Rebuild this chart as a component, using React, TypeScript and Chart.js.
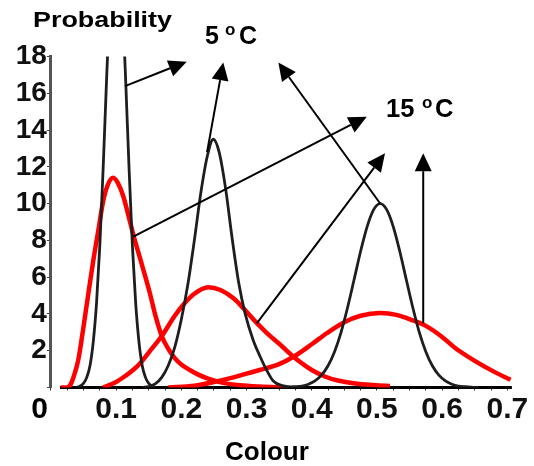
import React, { useEffect, useRef } from 'react';
import { Chart, registerables } from 'chart.js';

Chart.register(...registerables);

// Black curves (5 °C)
const black1X = [0.04, 0.05, 0.055, 0.06, 0.065, 0.07, 0.075, 0.08, 0.085, 0.09, 0.095, 0.1, 0.105, 0.11, 0.115, 0.12, 0.125, 0.13, 0.135, 0.14, 0.145, 0.15, 0.16];
const black1Y = [0, 0.22, 0.55, 1.2, 2.5, 4.6, 7.7, 11.8, 16.4, 20.7, 23.9, 25, 23.9, 20.7, 16.4, 11.8, 7.7, 4.6, 2.5, 1.2, 0.55, 0.22, 0];
const black2X = [0.14, 0.15, 0.16, 0.17, 0.18, 0.19, 0.2, 0.21, 0.22, 0.23, 0.24, 0.249, 0.258, 0.268, 0.278, 0.288, 0.298, 0.31, 0.321, 0.33, 0.341, 0.355, 0.37, 0.39];
const black2Y = [0, 0.05, 0.2, 0.55, 1.2, 2.2, 3.7, 5.6, 8.0, 10.6, 12.6, 13.5, 12.8, 10.8, 8.1, 5.7, 4.0, 2.6, 1.67, 1.0, 0.35, 0.1, 0.02, 0];
const black3X = [0.355, 0.375, 0.385, 0.395, 0.405, 0.415, 0.425, 0.435, 0.445, 0.455, 0.465, 0.475, 0.485, 0.495, 0.505, 0.515, 0.525, 0.535, 0.545, 0.555, 0.565, 0.575, 0.585, 0.595, 0.605, 0.615, 0.625, 0.635, 0.655];
const black3Y = [0, 0.04, 0.08, 0.18, 0.36, 0.67, 1.18, 1.95, 3.0, 4.35, 5.87, 7.41, 8.75, 9.67, 10, 9.67, 8.75, 7.41, 5.87, 4.35, 3.0, 1.95, 1.18, 0.67, 0.36, 0.18, 0.08, 0.04, 0];

// Red curves (15 °C)
const red1X = [0.015, 0.025, 0.03, 0.035, 0.042, 0.05, 0.057, 0.065, 0.073, 0.08, 0.087, 0.0955, 0.103, 0.111, 0.12, 0.128, 0.137, 0.145, 0.152, 0.16, 0.17, 0.18, 0.19, 0.2, 0.213, 0.226, 0.24, 0.264, 0.29, 0.32, 0.36];
const red1Y = [0, 0, 0.15, 0.6, 1.5, 3.3, 5.0, 6.9, 8.6, 10.1, 11.0, 11.4, 11.1, 10.4, 9.2, 8.1, 7.0, 6.0, 5.1, 3.95, 2.8, 2.1, 1.6, 1.25, 0.95, 0.7, 0.5, 0.25, 0.12, 0.05, 0];
const red2X = [0.08, 0.1, 0.115, 0.126, 0.137, 0.15, 0.17, 0.19, 0.203, 0.22, 0.2415, 0.26, 0.28, 0.298, 0.316, 0.333, 0.351, 0.372, 0.4, 0.42, 0.44, 0.47, 0.52];
const red2Y = [0, 0.3, 0.65, 0.95, 1.32, 1.9, 2.8, 3.9, 4.5, 5.1, 5.45, 5.3, 4.85, 4.2, 3.5, 2.9, 2.35, 1.67, 0.95, 0.6, 0.38, 0.2, 0.08];
const red3X = [0.18, 0.22, 0.25, 0.28, 0.3, 0.32, 0.35, 0.372, 0.4, 0.423, 0.45, 0.475, 0.505, 0.53, 0.555, 0.575, 0.6, 0.62, 0.65, 0.68, 0.705];
const red3Y = [0, 0.1, 0.3, 0.55, 0.75, 0.95, 1.27, 1.67, 2.35, 2.95, 3.55, 3.9, 4.05, 3.95, 3.65, 3.35, 2.75, 2.15, 1.45, 0.85, 0.42];

// Annotation arrows (data coordinates)
const arrowStartX = [0.1137, 0.2395, 0.1264, 0.5047, 0.3157, 0.571];
const arrowStartY = [16.39, 12.8, 8.2, 10.02, 3.49, 3.49];
const arrowEndX = [0.2083, 0.2644, 0.4844, 0.3488, 0.5124, 0.571];
const arrowEndY = [17.72, 17.68, 14.73, 17.68, 12.74, 12.74];

const yTickValues = [0, 2, 4, 6, 8, 10, 12, 14, 16, 18];
const xLabelValues = [0.1, 0.2, 0.3, 0.4, 0.5, 0.6, 0.7];
const xAxisStart = 0.014;

const FONT = "'Liberation Sans', Arial, Helvetica, sans-serif";

const toPoints = (xs: number[], ys: number[]) => xs.map((x, i) => ({ x, y: ys[i] }));

const annotationPlugin = {
  id: 'annotations',
  beforeDatasetsDraw(chart: any) {
    const ctx = chart.ctx as CanvasRenderingContext2D;
    const xs = chart.scales.x;
    const ys = chart.scales.y;
    ctx.save();
    ctx.strokeStyle = '#000';
    ctx.lineWidth = 3;
    const y0 = ys.getPixelForValue(0);
    ctx.beginPath();
    ctx.moveTo(xs.getPixelForValue(xAxisStart), y0);
    ctx.lineTo(xs.right, y0);
    ctx.stroke();
    ctx.restore();
  },
  afterDatasetsDraw(chart: any) {
    const ctx = chart.ctx as CanvasRenderingContext2D;
    const xs = chart.scales.x;
    const ys = chart.scales.y;
    ctx.save();
    // arrows
    ctx.strokeStyle = '#000';
    ctx.fillStyle = '#000';
    ctx.lineWidth = 2;
    for (let i = 0; i < arrowStartX.length; i++) {
      const x0 = xs.getPixelForValue(arrowStartX[i]);
      const y0 = ys.getPixelForValue(arrowStartY[i]);
      const x1 = xs.getPixelForValue(arrowEndX[i]);
      const y1 = ys.getPixelForValue(arrowEndY[i]);
      const ang = Math.atan2(y1 - y0, x1 - x0);
      const headLen = 18;
      const headHalf = 8.5;
      const bx = x1 - headLen * Math.cos(ang);
      const by = y1 - headLen * Math.sin(ang);
      ctx.beginPath();
      ctx.moveTo(x0, y0);
      ctx.lineTo(bx, by);
      ctx.stroke();
      ctx.beginPath();
      ctx.moveTo(x1, y1);
      ctx.lineTo(bx + headHalf * Math.sin(ang), by - headHalf * Math.cos(ang));
      ctx.lineTo(bx - headHalf * Math.sin(ang), by + headHalf * Math.cos(ang));
      ctx.closePath();
      ctx.fill();
    }
    // texts
    ctx.fillStyle = '#000';
    ctx.textBaseline = 'alphabetic';
    ctx.textAlign = 'left';
    ctx.font = `bold 22px ${FONT}`;
    const pw = ctx.measureText('Probability').width;
    ctx.save();
    ctx.translate(33, 27);
    ctx.scale(139 / pw, 1);
    ctx.fillText('Probability', 0, 0);
    ctx.restore();
    // 5 °C
    ctx.font = `bold 25px ${FONT}`;
    ctx.fillText('5', 205, 43.5);
    ctx.font = `bold 17px ${FONT}`;
    ctx.fillText('o', 225, 35);
    ctx.font = `bold 25px ${FONT}`;
    ctx.fillText('C', 239, 43.5);
    // 15 °C
    ctx.font = `bold 25.5px ${FONT}`;
    ctx.fillText('15', 386, 116.7);
    ctx.font = `bold 17px ${FONT}`;
    ctx.fillText('o', 422, 108);
    ctx.font = `bold 25.5px ${FONT}`;
    ctx.fillText('C', 435, 116.7);
    // origin 0
    ctx.font = `bold 30px ${FONT}`;
    ctx.textAlign = 'center';
    ctx.fillText('0', 39.5, 418);
    // Colour
    ctx.font = `bold 26px ${FONT}`;
    ctx.textAlign = 'left';
    ctx.fillText('Colour', 225, 460);
    ctx.restore();
  },
};

export default function App() {
  const ref = useRef<HTMLCanvasElement | null>(null);
  useEffect(() => {
    if (!ref.current) return;
    const black = '#1e1e1e';
    const red = '#ff0000';
    const mk = (xs: number[], ys: number[], color: string, w: number) => ({
      data: toPoints(xs, ys),
      borderColor: color,
      borderWidth: w,
      pointRadius: 0,
      fill: false,
      cubicInterpolationMode: 'monotone' as const,
    });
    const chart = new Chart(ref.current, {
      type: 'line',
      data: {
        datasets: [
          mk(black1X, black1Y, black, 2.8),
          mk(black2X, black2Y, black, 2.8),
          mk(black3X, black3Y, black, 2.8),
          mk(red1X, red1Y, red, 4.5),
          mk(red2X, red2Y, red, 4.5),
          mk(red3X, red3Y, red, 4.5),
        ],
      },
      options: {
        responsive: false,
        devicePixelRatio: 1,
        animation: false,
        layout: { padding: { top: 56.5, right: 22.1, left: 0, bottom: 0 } },
        plugins: { legend: { display: false }, tooltip: { enabled: false }, title: { display: false } },
        scales: {
          x: {
            type: 'linear',
            min: 0,
            max: 0.707,
            afterFit: (s: any) => { s.height = 78.5; },
            border: { display: false },
            grid: { drawOnChartArea: false, drawTicks: true, tickLength: 3, color: '#333', lineWidth: 1 },
            ticks: {
              stepSize: 0.025,
              autoSkip: false,
              includeBounds: false,
              maxRotation: 0,
              padding: 1,
              color: '#111',
              font: { family: FONT, size: 30, weight: 'bold' },
              callback: (v: any) => {
                const n = Number(v);
                const hit = xLabelValues.find((t) => Math.abs(t - n) < 1e-6);
                return hit !== undefined ? hit.toFixed(1) : '';
              },
            },
          },
          y: {
            type: 'linear',
            min: 0,
            max: 18,
            afterFit: (s: any) => { s.width = 50.9; },
            border: { display: true, color: '#555', width: 3, dash: [1.5, 1.5] },
            grid: { drawOnChartArea: false, drawTicks: true, tickLength: 4, color: '#444' },
            ticks: {
              stepSize: 2,
              padding: 0,
              color: '#111',
              font: { family: FONT, size: 28, weight: 'bold' },
              callback: (v: any) => {
                const n = Number(v);
                return yTickValues.includes(n) && n !== 0 ? String(n) : '';
              },
            },
          },
        },
      },
      plugins: [annotationPlugin],
    });
    return () => chart.destroy();
  }, []);
  return (
    <div style={{ position: 'fixed', left: 0, top: 0, width: 534, height: 466, background: '#fff' }}>
      <canvas ref={ref} width={534} height={466} style={{ width: 534, height: 466, display: 'block' }} />
    </div>
  );
}
